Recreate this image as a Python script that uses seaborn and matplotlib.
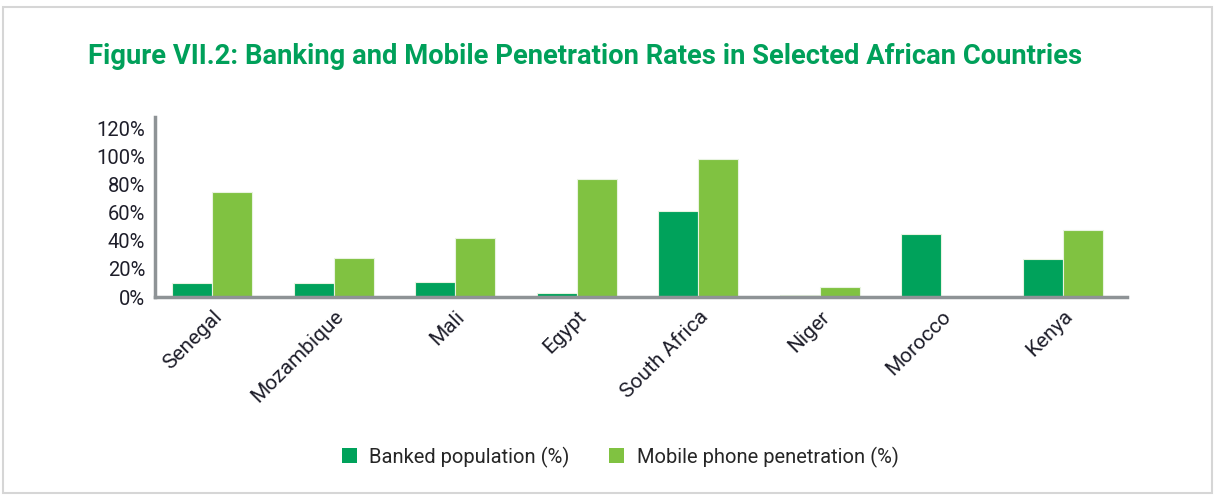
import matplotlib
matplotlib.use("Agg")
import matplotlib.pyplot as plt
import seaborn as sns
import pandas as pd
from matplotlib.patches import Rectangle, Patch

countries = ["Senegal", "Mozambique", "Mali", "Egypt", "South Africa", "Niger", "Morocco", "Kenya"]
banked = [10, 10, 11, 3, 61, 1.5, 45, 27]
mobile = [75, 28, 42, 84, 98, 7, 0, 48]
series_names = ["Banked population (%)", "Mobile phone penetration (%)"]
yticks = [0, 20, 40, 60, 80, 100, 120]
title = "Figure VII.2: Banking and Mobile Penetration Rates in Selected African Countries"

sns.set_theme(style="white")
plt.rcParams["font.family"] = ["Roboto", "DejaVu Sans"]

df = pd.DataFrame({
    "country": countries * 2,
    "value": banked + mobile,
    "series": [series_names[0]] * len(countries) + [series_names[1]] * len(countries),
})

c_bank = "#00A25B"
c_mob = "#80C241"

fig = plt.figure(figsize=(12.15, 4.96), dpi=100)
ax = fig.add_axes([0.1276, 0.401, 0.80, 0.363])
sns.barplot(data=df, x="country", y="value", hue="series", palette=[c_bank, c_mob],
            saturation=1, width=0.66, ax=ax, edgecolor="#E8F3E0", linewidth=0.8,
            legend=False)

ax.set_xlim(-0.47, 7.53)
ax.set_ylim(0, 128)
ax.set_yticks(yticks)
ax.set_yticklabels([f"{t}%" for t in yticks], fontsize=14.5, color="#1E1E2A")
ax.set_xticks(range(len(countries)))
ax.set_xticklabels(countries, rotation=45, ha="right", rotation_mode="anchor",
                   fontsize=15, color="#1E1E2A")
ax.set_xlabel("")
ax.set_ylabel("")
ax.tick_params(axis="both", length=0, pad=7)
for s in ["top", "right"]:
    ax.spines[s].set_visible(False)
for s in ["left", "bottom"]:
    ax.spines[s].set_color("#8E9396")
    ax.spines[s].set_linewidth(2.5)

fig.text(88 / 1215, 1 - 57 / 496, title, fontsize=19.7, fontweight="bold",
         color="#00A05A", ha="left", va="center")

handles = [Patch(facecolor=c_bank, edgecolor="none"), Patch(facecolor=c_mob, edgecolor="none")]
fig.legend(handles, series_names, loc="center", bbox_to_anchor=(620 / 1215, 1 - 457 / 496),
           ncol=2, frameon=False, fontsize=14.5, handlelength=0.75, handleheight=0.75,
           columnspacing=2.0, handletextpad=0.6)

fig.patches.append(Rectangle((3 / 1215, 3 / 496), 1209 / 1215, 486 / 496,
                             transform=fig.transFigure, fill=False,
                             edgecolor="#D6D6D6", linewidth=1.5))

fig.savefig("out.png", dpi=100, facecolor="white")
